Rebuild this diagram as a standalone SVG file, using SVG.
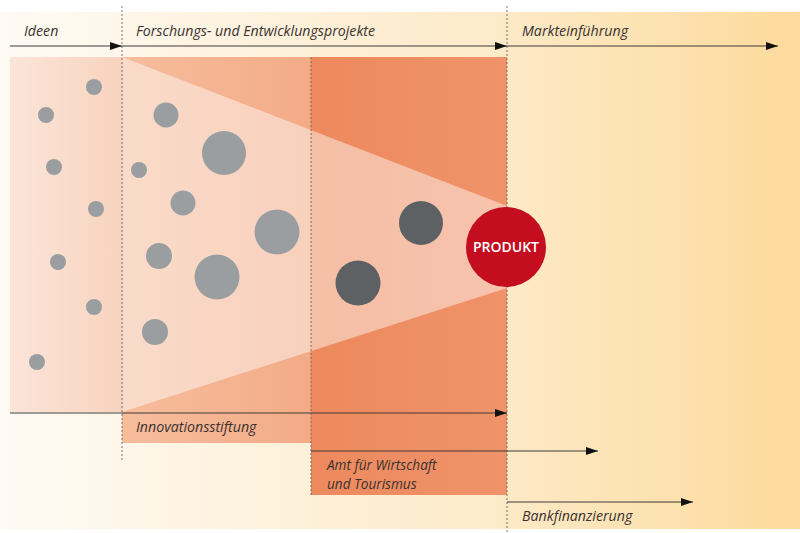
<svg xmlns="http://www.w3.org/2000/svg" width="800" height="533" viewBox="0 0 800 533">
<defs>
<linearGradient id="bg" x1="0" y1="0" x2="1" y2="0">
<stop offset="0" stop-color="#fefaf4"/>
<stop offset="0.6" stop-color="#fdebca"/>
<stop offset="1" stop-color="#fdda9c"/>
</linearGradient>
<linearGradient id="c1" x1="0" y1="0" x2="1" y2="0">
<stop offset="0" stop-color="#fbe5d9"/>
<stop offset="1" stop-color="#f8d3be"/>
</linearGradient>
<linearGradient id="c2" x1="0" y1="0" x2="1" y2="0">
<stop offset="0" stop-color="#f6bd9d"/>
<stop offset="1" stop-color="#f3ab86"/>
</linearGradient>
<linearGradient id="c3" x1="0" y1="0" x2="1" y2="0">
<stop offset="0" stop-color="#ed895d"/>
<stop offset="1" stop-color="#f0936a"/>
</linearGradient>
<marker id="ah" viewBox="0 0 12 8" refX="12" refY="4" markerWidth="12" markerHeight="8" markerUnits="userSpaceOnUse" orient="auto">
<path d="M0,0 L12,4 L0,8 Z" fill="#111"/>
</marker>
<style>
.lbl{font-family:"Open Sans","Liberation Sans",sans-serif;font-style:italic;font-size:14.2px;fill:#3a3230}
.lbl2{font-family:"Open Sans","Liberation Sans",sans-serif;font-style:italic;font-size:13.6px;fill:#3a3230}
.ln{stroke:#3e3a38;stroke-width:1;fill:none}
.dash{stroke:#555;stroke-width:0.8;stroke-dasharray:2,2;fill:none}
.sm{fill:#9a9ea1}
.dk{fill:#5e6164}
</style>
</defs>
<rect x="0" y="0" width="800" height="533" fill="#ffffff"/>
<rect x="0" y="12" width="800" height="517" fill="url(#bg)"/>

<g id="columns">
<rect x="10" y="57" width="112" height="355" fill="url(#c1)"/>
<rect x="122" y="57" width="189" height="386" fill="url(#c2)"/>
<rect x="311" y="57" width="196" height="438" fill="url(#c3)"/>
<polygon points="122,57 507,206 507,288 122,412" fill="#ffffff" fill-opacity="0.45"/>
</g>

<g id="connectors">
<line class="dash" x1="122" y1="6" x2="122" y2="462"/>
<line class="dash" x1="311" y1="57" x2="311" y2="495"/>
<line class="dash" x1="507" y1="6" x2="507" y2="533"/>
<line class="ln" x1="10" y1="46" x2="122" y2="46" marker-end="url(#ah)"/>
<line class="ln" x1="122" y1="46" x2="507" y2="46" marker-end="url(#ah)"/>
<line class="ln" x1="507" y1="46" x2="778" y2="46" marker-end="url(#ah)"/>
<line class="ln" x1="10" y1="413" x2="507" y2="413" marker-end="url(#ah)"/>
<line class="ln" x1="311" y1="451" x2="598" y2="451" marker-end="url(#ah)"/>
<line class="ln" x1="507" y1="502" x2="693" y2="502" marker-end="url(#ah)"/>
</g>

<g id="labels">
<text class="lbl" x="24" y="36">Ideen</text>
<text class="lbl" x="136" y="36">Forschungs- und Entwicklungsprojekte</text>
<text class="lbl" x="522" y="36">Markteinführung</text>
<text class="lbl" x="136" y="432">Innovationsstiftung</text>
<text class="lbl2" x="327" y="469.5">Amt für Wirtschaft</text>
<text class="lbl2" x="327" y="488.5">und Tourismus</text>
<text class="lbl" x="522" y="521">Bankfinanzierung</text>
</g>

<g id="ideas">
<circle class="sm" cx="94" cy="87" r="8"/>
<circle class="sm" cx="46" cy="115" r="8"/>
<circle class="sm" cx="54" cy="167" r="8"/>
<circle class="sm" cx="96" cy="209" r="8"/>
<circle class="sm" cx="58" cy="262" r="8"/>
<circle class="sm" cx="94" cy="307" r="8"/>
<circle class="sm" cx="37" cy="362" r="8"/>
</g>

<g id="projects">
<circle class="sm" cx="166" cy="115" r="12.5"/>
<circle class="sm" cx="224" cy="153" r="22"/>
<circle class="sm" cx="139" cy="170" r="8"/>
<circle class="sm" cx="183" cy="203" r="12.5"/>
<circle class="sm" cx="277" cy="232" r="22.5"/>
<circle class="sm" cx="159" cy="256" r="13"/>
<circle class="sm" cx="217" cy="277" r="22.5"/>
<circle class="sm" cx="155" cy="332" r="13"/>
</g>

<g id="advanced">
<circle class="dk" cx="421" cy="223" r="22"/>
<circle class="dk" cx="358" cy="283" r="22.5"/>
</g>

<g id="produkt">
<circle cx="506" cy="247" r="40" fill="#c50d20"/>
<text x="506" y="252" text-anchor="middle" font-family="Open Sans, Liberation Sans, sans-serif" font-size="14" font-weight="600" fill="#ffffff">PRODUKT</text>
</g>
</svg>
